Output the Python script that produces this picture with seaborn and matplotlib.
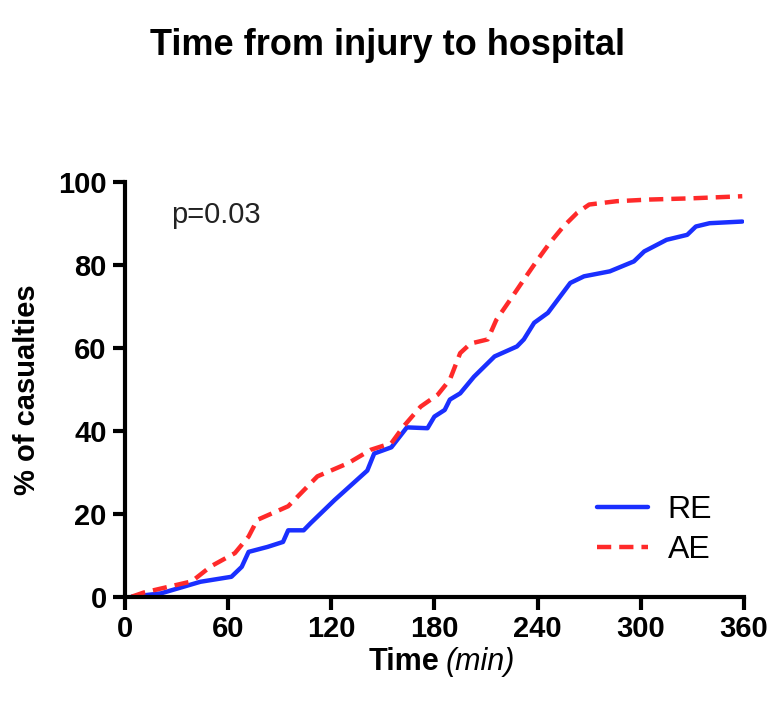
import numpy as np
import pandas as pd
import matplotlib
matplotlib.use("Agg")
import matplotlib.pyplot as plt
import seaborn as sns

# ---------------------------------------------------------------
# Data (cumulative % of casualties vs time)
# ---------------------------------------------------------------
re_time = [4, 21, 44, 62, 68, 72, 83, 92, 95, 104, 108, 122, 141, 145, 155,
           164, 176, 180, 186, 189, 195, 203, 215, 228, 232, 238, 246, 259,
           267, 282, 296, 302, 315, 327, 332, 340, 359]
re_pct = [0, 0.8, 3.6, 4.8, 7.2, 10.8, 12, 13.2, 16, 16, 17.7, 23.3, 30.4,
          34.5, 36, 40.8, 40.6, 43.4, 45, 47.5, 49, 53, 57.9, 60.3, 62, 66,
          68.4, 75.6, 77.2, 78.4, 80.8, 83.2, 86, 87.2, 89.2, 90, 90.4]

ae_time = [4, 11, 39, 50, 64, 72, 77, 95, 112, 130, 143, 155, 162, 172, 182,
           189, 195, 201, 211, 216, 224, 232, 240, 247, 255, 263, 270, 286,
           305, 330, 359]
ae_pct = [0, 1, 3.7, 7.3, 10.5, 14.5, 18.5, 21.8, 29, 32.2, 35.4, 37, 41,
          45.8, 48.7, 52.3, 58.7, 61, 62, 66.7, 71.5, 76.4, 81.2, 85.2, 89.2,
          92.5, 94.5, 95.3, 95.7, 96, 96.5]

x_ticks = [0, 60, 120, 180, 240, 300, 360]
y_ticks = [0, 20, 40, 60, 80, 100]

df_re = pd.DataFrame({"time": re_time, "pct": re_pct})
df_ae = pd.DataFrame({"time": ae_time, "pct": ae_pct})

# ---------------------------------------------------------------
# Plot
# ---------------------------------------------------------------
sns.set_style("ticks")
plt.rcParams['font.family'] = ['Liberation Sans', 'DejaVu Sans']
plt.rcParams['text.color'] = 'black'

fig = plt.figure(figsize=(7.75, 7.07), dpi=100)
ax = fig.add_axes([0.161, 0.156, 0.799, 0.587])

sns.lineplot(data=df_re, x="time", y="pct", ax=ax, color="#1a2fff",
             lw=3.2, label="RE")
sns.lineplot(data=df_ae, x="time", y="pct", ax=ax, color="#ff2a2a",
             lw=3.2, label="AE", linestyle=(0, (3.2, 1.8)))

ax.set_xlim(0, 360)
ax.set_ylim(0, 100)
ax.set_xticks(x_ticks)
ax.set_yticks(y_ticks)
for sp in ["top", "right"]:
    ax.spines[sp].set_visible(False)
for sp in ["left", "bottom"]:
    ax.spines[sp].set_linewidth(3)
    ax.spines[sp].set_color("black")
ax.tick_params(width=3, length=9, color="black", labelsize=21, pad=4)
for lbl in ax.get_xticklabels() + ax.get_yticklabels():
    lbl.set_fontweight("bold")
    lbl.set_color("black")
for lbl in ax.get_xticklabels():
    lbl.set_family(['Liberation Sans Narrow', 'Liberation Sans', 'DejaVu Sans'])

ax.set_ylabel("% of casualties", fontsize=21, fontweight="bold", labelpad=12,
              color="black")
ax.set_xlabel("")
fig.text(0.567, 0.064, "Time", fontsize=22, fontweight="bold", ha="right",
         va="center")
fig.text(0.575, 0.064, "(min)", fontsize=22, style="italic", ha="left",
         va="center")

ax.text(0.075, 0.92, "p=0.03", transform=ax.transAxes, fontsize=21,
        color="#222222", va="center")

ax.legend(loc="lower right", bbox_to_anchor=(1.0, 0.0), frameon=False,
          fontsize=23, handlelength=1.6, handletextpad=0.6, labelspacing=0.3,
          borderaxespad=0.6)

fig.text(0.5, 0.936, "Time from injury to hospital", ha="center", va="center",
         fontsize=26, fontweight="bold")

fig.savefig("out.png", dpi=100)
